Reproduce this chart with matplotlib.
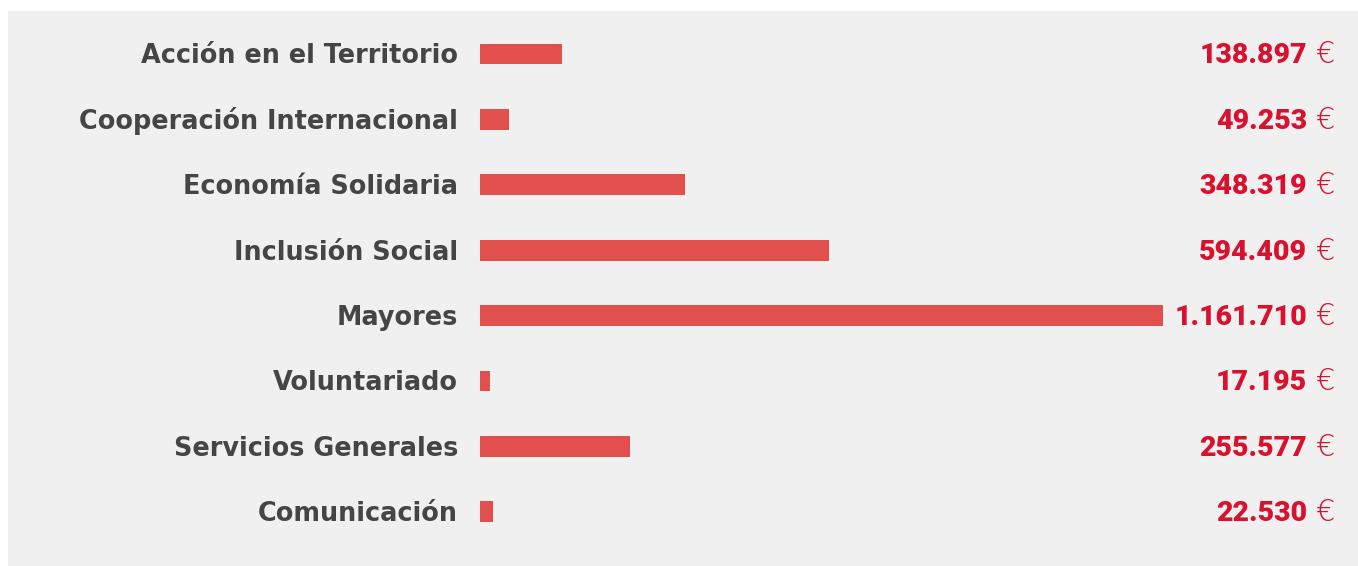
import matplotlib
matplotlib.use("Agg")
import matplotlib.pyplot as plt
from matplotlib import transforms
from matplotlib.patches import Rectangle

categories = ["Acción en el Territorio", "Cooperación Internacional", "Economía Solidaria",
              "Inclusión Social", "Mayores", "Voluntariado", "Servicios Generales", "Comunicación"]
values = [138897, 49253, 348319, 594409, 1161710, 17195, 255577, 22530]
value_labels = ["138.897", "49.253", "348.319", "594.409", "1.161.710", "17.195", "255.577", "22.530"]

W, H = 1358, 566
fig = plt.figure(figsize=(W / 100, H / 100), dpi=100)
fig.patch.set_facecolor("white")
fig.patches.append(Rectangle((8 / W, 0), 1 - 8 / W, 1 - 11 / H, transform=fig.transFigure,
                             facecolor="#f0f0f0", edgecolor="none", zorder=-10))

n = len(categories)
step = 65.4
top_px = 54 - step / 2
left_px, right_px = 480, 1163
ax = fig.add_axes([left_px / W, 1 - (top_px + n * step) / H, (right_px - left_px) / W, n * step / H])
ax.set_zorder(1)
ax.set_facecolor("none")
ax.barh(range(n), values, height=0.32, color="#e2504d")
ax.set_xlim(0, max(values))
ax.set_ylim(n - 0.5, -0.5)
ax.axis("off")

fam = ["DejaVu Sans"]
lab_tr = transforms.blended_transform_factory(fig.transFigure, ax.transData)
base_tr = transforms.offset_copy(lab_tr, fig=fig, x=0, y=-9.5, units="dots")
for i, (c, v) in enumerate(zip(categories, value_labels)):
    ax.text(458 / W, i, c, transform=base_tr, ha="right", va="baseline",
            fontsize=18.4, color="#454545", fontweight="semibold", family=fam, clip_on=False)
    ax.text(1307 / W, i, v, transform=base_tr, ha="right", va="baseline",
            fontsize=20.5, color="#d8112f", fontweight="black", family=["Roboto", "DejaVu Sans"],
            clip_on=False)
    ax.text(1315 / W, i, "€", transform=base_tr, ha="left", va="baseline",
            fontsize=22, color="#d8112f", fontweight="light", family=fam, clip_on=False)

fig.savefig("out.png", dpi=100, facecolor="white")
